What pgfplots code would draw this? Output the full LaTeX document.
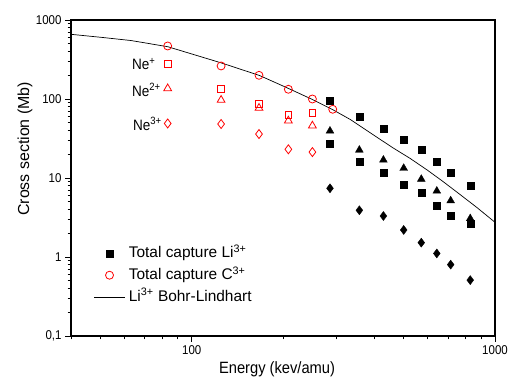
\documentclass[border=0pt]{standalone}
\usepackage{pgfplots}
\pgfplotsset{compat=1.18}
\usepackage{fontspec}
\setmainfont{Liberation Sans}
\newfontfamily\tallfont[FakeStretch=0.9]{Liberation Sans}
\begin{document}
\begin{tikzpicture}
\begin{loglogaxis}[
  name=ax, at={(0,0)}, anchor=south west,
  scale only axis, width=424bp, height=316bp,
  xmin=40, xmax=1000, ymin=0.1, ymax=1000,
  xtick={100,1000}, xticklabels={100,1000},
  ytick={0.1,1,10,100,1000}, yticklabels={{0,1},1,10,100,1000},
  minor xtick={40,50,60,70,80,90,200,300,400,500,600,700,800,900},
  minor ytick={0.2,0.3,0.4,0.5,0.6,0.7,0.8,0.9,2,3,4,5,6,7,8,9,20,30,40,50,60,70,80,90,200,300,400,500,600,700,800,900},
  tick align=outside, tick pos=left,
  major tick length=6bp, minor tick length=3.5bp,
  axis line style={line width=1.1bp},
  every tick/.style={black, line width=0.9bp},
  tick label style={font=\tallfont\fontsize{12.8}{15}\selectfont},
  xlabel={Energy (kev/amu)}, ylabel={Cross section (Mb)},
  xlabel style={font=\tallfont\fontsize{16.4}{19}\selectfont, at={(axis description cs:0.486,-0.080)}, anchor=north, inner sep=0pt},
  ylabel style={font=\fontsize{16}{19}\selectfont, at={(axis description cs:-0.1085,0.592)}, anchor=center, inner sep=0pt},
  legend style={at={(axis description cs:0.053,0.296)}, anchor=north west, draw=none, fill=none, inner sep=0pt,
    font=\fontsize{15.5}{18}\selectfont,
    nodes={inner xsep=3.5bp, inner ysep=3bp, text height=12bp, text depth=3.7bp}, row sep=0pt},
  legend cell align=left,
  legend image code/.code={\draw[mark repeat=2,mark phase=2,#1] plot coordinates {(0bp,0bp)(15.5bp,0bp)(31bp,0bp)};},
]
% Total capture Li3+
\addplot[only marks, mark=square*, mark size=3.5bp, black] coordinates {
(285.7,95.2)(357.1,59.7)(428.6,42.6)(500,30.9)(571.4,23.1)(642.9,15.9)(714.3,11.7)(828.6,8.0)};
\addlegendentry{Total capture Li\textsuperscript{3+}}
% Total capture C3+
\addplot[only marks, mark=o, mark size=4bp, red, line width=0.8bp] coordinates {
(83.33,469)(125,262)(166.7,199.5)(208.3,132.8)(250,100)(291.7,74.1)};
\addlegendentry{Total capture C\textsuperscript{3+}}
% Bohr-Lindhart
\addplot[black, line width=0.7bp, no marks] coordinates {
(40,659)(50.2,604)(63,550)(83.4,459)(124.6,288)(167.4,198.4)(208.5,136)(250,98.6)(293,72.6)(333.4,55)(409,32.6)(461.6,24)(525,17.7)(598,12.6)(675,8.98)(767,6.18)(871,4.24)(1000,2.75)};
\addlegendentry{Li\textsuperscript{3+} Bohr-Lindhart}
% Li3+ partial
\addplot[forget plot, only marks, mark=square*, mark size=3.5bp, black] coordinates {
(285.7,26.9)(357.1,15.9)(428.6,11.6)(500,8.27)(571.4,6.51)(642.9,4.42)(714.3,3.30)(828.6,2.65)};
\addplot[forget plot, only marks, mark=triangle*, mark size=4.5bp, black] coordinates {
(285.7,39.4)(357.1,22.6)(428.6,16.9)(500,13.3)(571.4,9.66)(642.9,6.85)(714.3,5.16)(828.6,3.07)};
\addplot[forget plot, only marks, mark=diamond*, mark size=4.5bp, black] coordinates {
(285.7,7.41)(357.1,3.90)(428.6,3.30)(500,2.20)(571.4,1.52)(642.9,1.11)(714.3,0.80)(828.6,0.51)};
% C3+ partial
\addplot[forget plot, only marks, mark=square, mark size=3.3bp, red, line width=0.8bp] coordinates {
(83.33,277)(125,135)(166.7,86.5)(208.3,63.2)(250,67.1)};
\addplot[forget plot, only marks, mark=triangle, mark size=4.5bp, red, line width=0.8bp] coordinates {
(83.33,136)(125,97)(166.7,76.9)(208.3,53.1)(250,45.9)};
\addplot[forget plot, only marks, mark=diamond, mark size=4.5bp, red, line width=0.8bp] coordinates {
(83.33,49)(125,48.3)(166.7,36)(208.3,23.1)(250,21.3)};
\node[anchor=base west, inner sep=0pt, font=\tallfont\fontsize{15.1}{18}\selectfont] at (axis cs:63.5,237.6) {Ne\textsuperscript{+}};
\node[anchor=base west, inner sep=0pt, font=\tallfont\fontsize{15.1}{18}\selectfont] at (axis cs:63.5,109) {Ne\textsuperscript{2+}};
\node[anchor=base west, inner sep=0pt, font=\tallfont\fontsize{15.1}{18}\selectfont] at (axis cs:64,40.4) {Ne\textsuperscript{3+}};
\end{loglogaxis}
\pgfresetboundingbox
\useasboundingbox (-71bp,-42bp) rectangle (442bp,336bp);
\end{tikzpicture}
\end{document}
